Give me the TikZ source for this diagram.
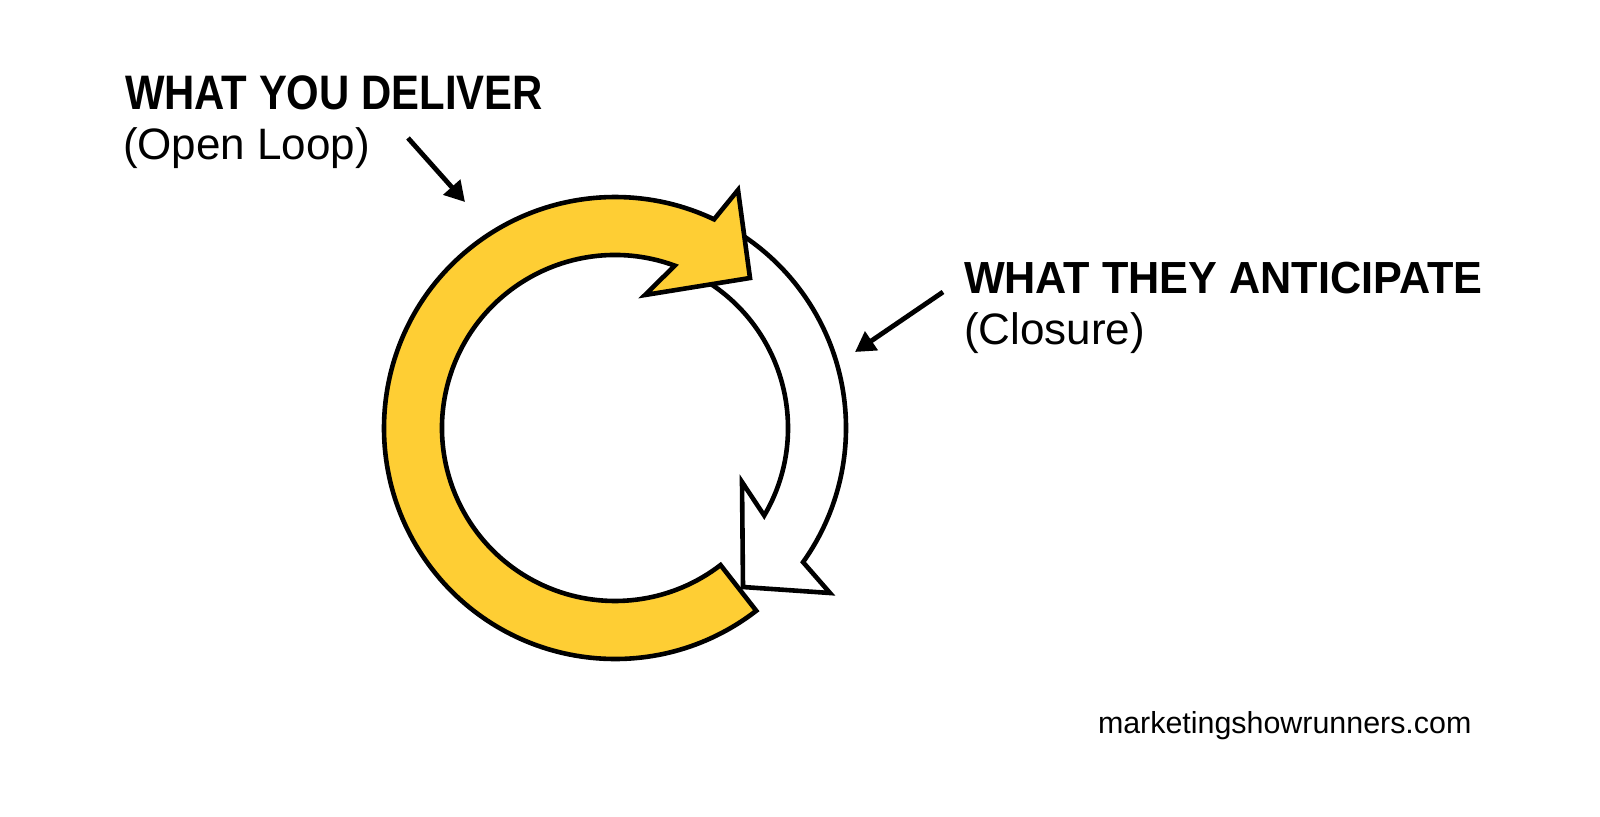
\documentclass[tikz,border=0pt]{standalone}
\usepackage{fontspec}
\setmainfont{Liberation Sans}
\newfontfamily\hdA[FakeStretch=0.865]{Liberation Sans Bold}
\newfontfamily\hdB[FakeStretch=0.96]{Liberation Sans Bold}
\newfontfamily\rgA{Liberation Sans}
\usetikzlibrary{arrows.meta,calc}
\definecolor{loopyellow}{RGB}{254,206,52}
\tikzset{
  ring/.style={draw=black, line width=2.3pt, line join=miter, miter limit=10},
  pointer/.style={draw=black, line width=2.4pt, -{Triangle[length=10pt,width=11pt]}},
  label/.style={anchor=base west, inner sep=0pt, outer sep=0pt, text=black},
}
\begin{document}
\begin{tikzpicture}[x=0.5pt,y=0.5pt]
\useasboundingbox (0,0) rectangle (1600,816);
\coordinate (C) at (615,388);
% white (closure) arrow
\filldraw[ring, fill=white]
  ($(C)+(59:231)$) arc[start angle=59, end angle=-35.5, radius=231]
  -- (830,223) -- (743,229) -- (742,334)
  -- ($(C)+(-30.4:173)$) arc[start angle=-30.4, end angle=59, radius=173]
  -- cycle;
% yellow (open loop) arrow
\filldraw[ring, fill=loopyellow]
  ($(C)+(-52.3:231)$) arc[start angle=-52.3, end angle=-295.4, radius=231]
  -- (738,626) -- (750,538) -- (645,521)
  -- ($(C)+(69.8:173)$) arc[start angle=69.8, end angle=307.6, radius=173]
  -- cycle;
% labels
\node[label, font=\hdA\fontsize{24.2}{28}\selectfont] (deliver) at (125,706) {WHAT YOU DELIVER};
\node[label, font=\rgA\fontsize{22}{26}\selectfont] (openloop) at (123,656) {(Open Loop)};
\node[label, font=\hdB\fontsize{22.5}{27}\selectfont] (anticipate) at (964,523) {WHAT THEY ANTICIPATE};
\node[label, font=\rgA\fontsize{22}{26}\selectfont] (closure) at (964,472) {(Closure)};
\node[label, font=\rgA\fontsize{15.2}{18}\selectfont] (site) at (1098,83) {marketingshowrunners.com};
% pointers
\coordinate (p1s) at (408,678);
\coordinate (p1e) at (465,614);
\coordinate (p2s) at (943,524);
\coordinate (p2e) at (855,464);
\draw[pointer] (p1s) -- (p1e);
\draw[pointer] (p2s) -- (p2e);
\end{tikzpicture}
\end{document}
